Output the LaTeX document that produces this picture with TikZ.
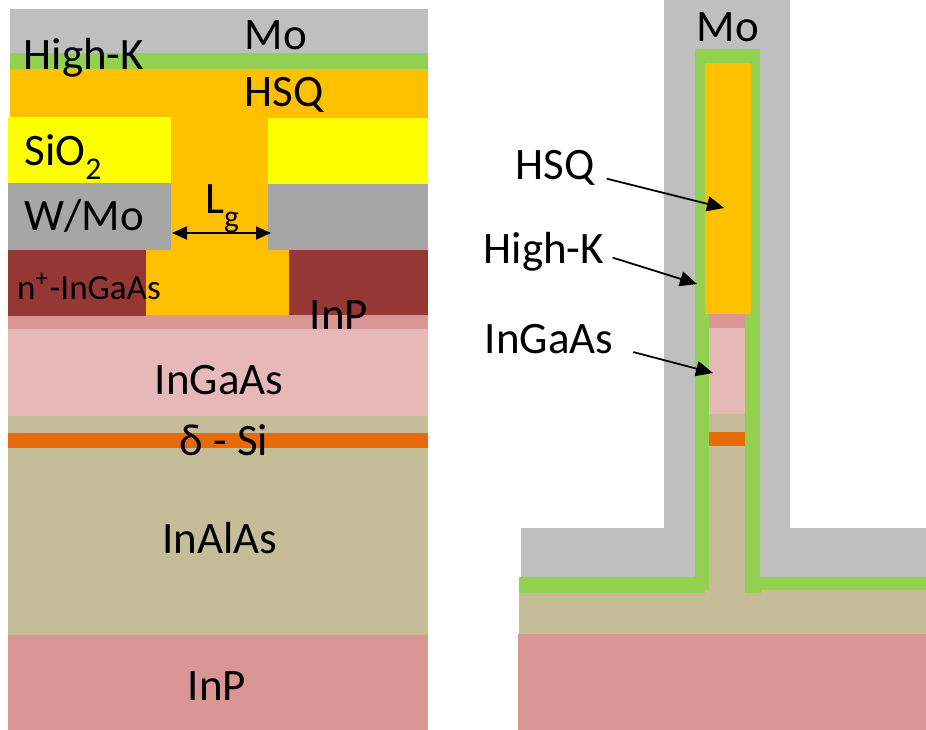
\documentclass[tikz,border=0pt]{standalone}
\usepackage{fontspec}
\setmainfont{Carlito}
\usetikzlibrary{arrows.meta}
\definecolor{moGray}{HTML}{BFBFBF}
\definecolor{wmoGray}{HTML}{A6A6A6}
\definecolor{highkGreen}{HTML}{92D050}
\definecolor{hsqOrange}{HTML}{FFC000}
\definecolor{oxideYellow}{HTML}{FFFF00}
\definecolor{capRed}{HTML}{953735}
\definecolor{inpPink}{HTML}{D99694}
\definecolor{ingaasPink}{HTML}{E6B9B8}
\definecolor{inalasTan}{HTML}{C4BD97}
\definecolor{deltaOrange}{HTML}{E46C0A}
\newcommand{\lowsub}[1]{\raisebox{-0.3em}{\fontsize{9}{10}\selectfont #1}}
\tikzset{
    layerlabel/.style={font=\fontsize{12.8}{14}\selectfont, inner sep=0pt},
    smalllabel/.style={font=\fontsize{10}{12}\selectfont, inner sep=0pt},
    pointer/.style={-{Triangle[length=1.7mm,width=1.5mm]}, line width=0.5pt},
}
\begin{document}
\begin{tikzpicture}[x=0.1mm,y=-0.1mm]
    \useasboundingbox (0,0) rectangle (926,730);
    % Left cross section: full width layers, top to bottom
    \foreach \c/\ya/\yb in {moGray/9/53, highkGreen/53/69, hsqOrange/69/118} {
        \fill[\c] (10,\ya) rectangle (428,\yb);
    }
    \foreach \c/\ya/\yb in {inpPink/315/329, ingaasPink/329/416, inalasTan/416/635, deltaOrange/433/448, inpPink/635/730} {
        \fill[\c] (8,\ya) rectangle (428,\yb);
    }
    % Gate stack on both sides of the recess
    \fill[hsqOrange] (171,118) rectangle (268,250);
    \fill[hsqOrange] (146,250) rectangle (289,315);
    \foreach \c/\ya/\yb in {oxideYellow/117/183, wmoGray/183/250} {
        \fill[\c] (8,\ya) rectangle (171,\yb);
    }
    \foreach \c/\ya/\yb in {oxideYellow/118/184, wmoGray/184/250} {
        \fill[\c] (268,\ya) rectangle (428,\yb);
    }
    \fill[capRed] (8,250) rectangle (146,316);
    \fill[capRed] (289,250) rectangle (428,315);

    % Right cross section: substrate and base
    \fill[inpPink] (518,634) rectangle (926,730);
    \fill[inalasTan] (519,590) rectangle (926,634);
    % Mo wraps the fin
    \fill[moGray] (664,0) rectangle (790,577);
    \fill[moGray] (521,528) rectangle (926,577);
    % High-K shell
    \fill[highkGreen] (695,49) rectangle (760,590);
    \fill[highkGreen] (519,577) rectangle (705,593);
    \fill[highkGreen] (745,577) rectangle (761,593);
    \fill[highkGreen] (759,577) rectangle (926,590);
    % Fin layers
    \fill[hsqOrange] (705,63) rectangle (751,314);
    \foreach \c/\ya/\yb in {inpPink/314/328, ingaasPink/328/414, inalasTan/414/593, deltaOrange/432/446} {
        \fill[\c] (709,\ya) rectangle (745,\yb);
    }

    % Labels of the left section
    \node[layerlabel] (moleft) at (276,35) {Mo};
    \node[layerlabel] (highkleft) at (84,58) {High-K};
    \node[layerlabel] (hsqleft) at (284,95) {HSQ};
    \node[layerlabel, anchor=west] (oxide) at (24,157) {SiO\lowsub{2}};
    \node[layerlabel] (wmo) at (84,216) {W/Mo};
    \node[layerlabel] (gatelength) at (222,209) {L\lowsub{g}};
    \node[smalllabel] (capleft) at (89,286) {n\textsuperscript{+}-InGaAs};
    \node[layerlabel] (inptop) at (339,315) {InP};
    \node[layerlabel] (ingaasleft) at (219,380) {InGaAs};
    \node[layerlabel] (deltasi) at (224,440) {δ - Si};
    \node[layerlabel] (inalas) at (220,538) {InAlAs};
    \node[layerlabel] (inpbottom) at (217,686) {InP};

    % Gate length arrow
    \coordinate (lgleft) at (172,233);
    \coordinate (lgright) at (271,233);
    \draw[pointer, {Triangle[length=1.5mm,width=1.3mm]}-{Triangle[length=1.5mm,width=1.3mm]}] (lgleft) -- (lgright);

    % Labels of the right section
    \node[layerlabel] (moright) at (728,27) {Mo};
    \node[layerlabel] (hsqright) at (555,168) {HSQ};
    \node[layerlabel] (highkright) at (544,252) {High-K};
    \node[layerlabel] (ingaasright) at (549,339) {InGaAs};

    \coordinate (hsqtip) at (724,208);
    \coordinate (highktip) at (697,284);
    \coordinate (ingaastip) at (713,373);
    \draw[pointer, shorten <=3.4pt] (hsqright.-11) -- (hsqtip);
    \draw[pointer, shorten <=2.3pt] (highkright.-3) -- (highktip);
    \draw[pointer, shorten <=5.7pt] (ingaasright.-7) -- (ingaastip);
\end{tikzpicture}
\end{document}
